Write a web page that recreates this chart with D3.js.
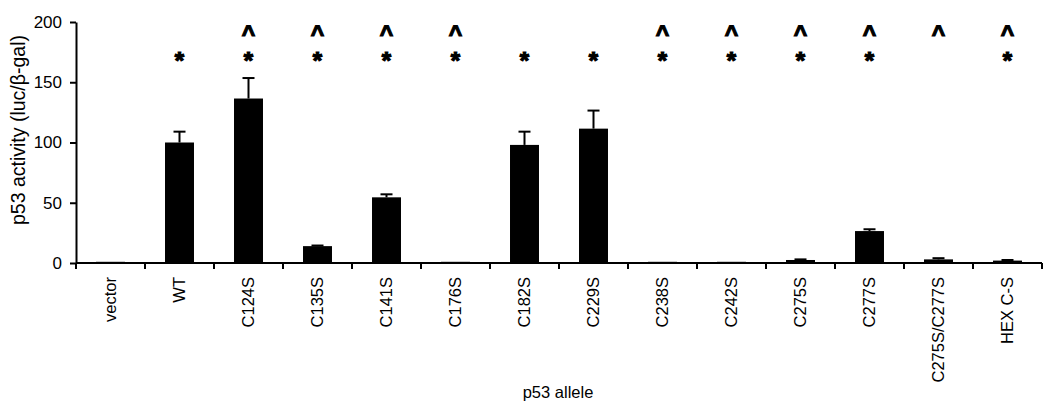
<!DOCTYPE html>
<html>
<head>
<meta charset="utf-8">
<script src="https://cdn.jsdelivr.net/npm/d3@7"></script>
<style>
  body { margin: 0; background: #fff; }
  text { font-family: "Liberation Sans", Arial, sans-serif; }
</style>
</head>
<body>
<svg id="chart"></svg>
<script>
// data
var alleles = ["vector", "WT", "C124S", "C135S", "C141S", "C176S", "C182S",
               "C229S", "C238S", "C242S", "C275S", "C277S", "C275S/C277S", "HEX C-S"];
var activity = [1, 100, 136.5, 14, 54.5, 1, 98, 111.5, 1, 1, 2.5, 26.5, 3, 2];
var errorUp  = [0, 9, 17, 0.5, 2.5, 0, 11, 15, 0, 0, 0.5, 1.5, 1, 0.5];
var star  = [0, 1, 1, 1, 1, 1, 1, 1, 1, 1, 1, 1, 0, 1];
var caret = [0, 0, 1, 1, 1, 1, 0, 0, 1, 1, 1, 1, 1, 1];
var yTicks = [0, 50, 100, 150, 200];

var data = alleles.map(function(a, i) {
  return {name: a, value: activity[i], err: errorUp[i], star: star[i], caret: caret[i]};
});

// set the dimensions and margins of the graph
var margin = {top: 22, right: 8, bottom: 148, left: 76},
    width = 966,
    height = 411 - margin.top - margin.bottom;

var x = d3.scaleBand().domain(alleles).range([0, width]).paddingInner(0.58).paddingOuter(0.29);
var xb = d3.scaleLinear().domain([0, alleles.length]).range([0, width]);
var y = d3.scaleLinear().domain([0, 200]).range([height, 0]);

var svg = d3.select("#chart")
    .attr("width", 1050)
    .attr("height", 411)
  .append("g")
    .attr("transform", "translate(" + margin.left + "," + margin.top + ")");

// bars
svg.selectAll(".bar")
    .data(data)
  .enter().append("rect")
    .attr("x", function(d) { return x(d.name); })
    .attr("width", x.bandwidth())
    .attr("y", function(d) { return y(d.value); })
    .attr("height", function(d) { return height - y(d.value); })
    .attr("fill", "#000");

// error bars (upper only)
var eb = svg.selectAll(".err")
    .data(data.filter(function(d) { return d.err > 0; }))
  .enter().append("g");
eb.append("line")
    .attr("x1", function(d) { return x(d.name) + x.bandwidth() / 2; })
    .attr("x2", function(d) { return x(d.name) + x.bandwidth() / 2; })
    .attr("y1", function(d) { return y(d.value); })
    .attr("y2", function(d) { return y(d.value + d.err); })
    .attr("stroke", "#000").attr("stroke-width", 2);
eb.append("line")
    .attr("x1", function(d) { return x(d.name) + x.bandwidth() / 2 - 6; })
    .attr("x2", function(d) { return x(d.name) + x.bandwidth() / 2 + 6; })
    .attr("y1", function(d) { return y(d.value + d.err); })
    .attr("y2", function(d) { return y(d.value + d.err); })
    .attr("stroke", "#000").attr("stroke-width", 2);

// significance marks: ^ on top, * below
function markX(d) { return x(d.name) + x.bandwidth() / 2; }
svg.selectAll(".caret")
    .data(data.filter(function(d) { return d.caret; }))
  .enter().append("text")
    .attr("x", markX)
    .attr("y", 19.5)
    .attr("text-anchor", "middle")
    .attr("font-size", 23)
    .attr("font-weight", "bold")
    .attr("stroke", "#000").attr("stroke-width", 1.2)
    .text("^");
svg.selectAll(".star")
    .data(data.filter(function(d) { return d.star; }))
  .enter().append("text")
    .attr("x", markX)
    .attr("y", 47)
    .attr("text-anchor", "middle")
    .attr("font-size", 24)
    .attr("font-weight", "bold")
    .attr("stroke", "#000").attr("stroke-width", 1.2)
    .text("*");

// Y axis
var yAxis = svg.append("g")
    .call(d3.axisLeft(y).tickValues(yTicks).tickSize(6).tickSizeOuter(0));
yAxis.selectAll("text").attr("font-size", 17).attr("fill", "#000").attr("x", -14);
yAxis.selectAll("line, path").attr("stroke", "#000").attr("stroke-width", 2);

// X axis: ticks at category boundaries
var xAxis = svg.append("g")
    .attr("transform", "translate(0," + height + ")");
xAxis.append("line")
    .attr("x1", 0).attr("x2", width)
    .attr("stroke", "#000").attr("stroke-width", 2);
xAxis.selectAll(".tick")
    .data(d3.range(alleles.length + 1))
  .enter().append("line")
    .attr("x1", function(d) { return xb(d); })
    .attr("x2", function(d) { return xb(d); })
    .attr("y1", 0).attr("y2", 6)
    .attr("stroke", "#000").attr("stroke-width", 2);
xAxis.selectAll(".lbl")
    .data(alleles)
  .enter().append("text")
    .attr("transform", function(d) {
      return "translate(" + (x(d) + x.bandwidth() / 2) + ",14) rotate(-90)";
    })
    .attr("text-anchor", "end")
    .attr("dy", "0.35em")
    .attr("font-size", 16.5)
    .text(function(d) { return d; });

// axis titles
svg.append("text")
    .attr("transform", "translate(-58,108) rotate(-90)")
    .attr("text-anchor", "middle")
    .attr("dy", "0.35em")
    .attr("font-size", 19.5)
    .text("p53 activity (luc/β-gal)");
svg.append("text")
    .attr("x", 482)
    .attr("y", 376)
    .attr("text-anchor", "middle")
    .attr("font-size", 16.5)
    .text("p53 allele");
</script>
</body>
</html>
